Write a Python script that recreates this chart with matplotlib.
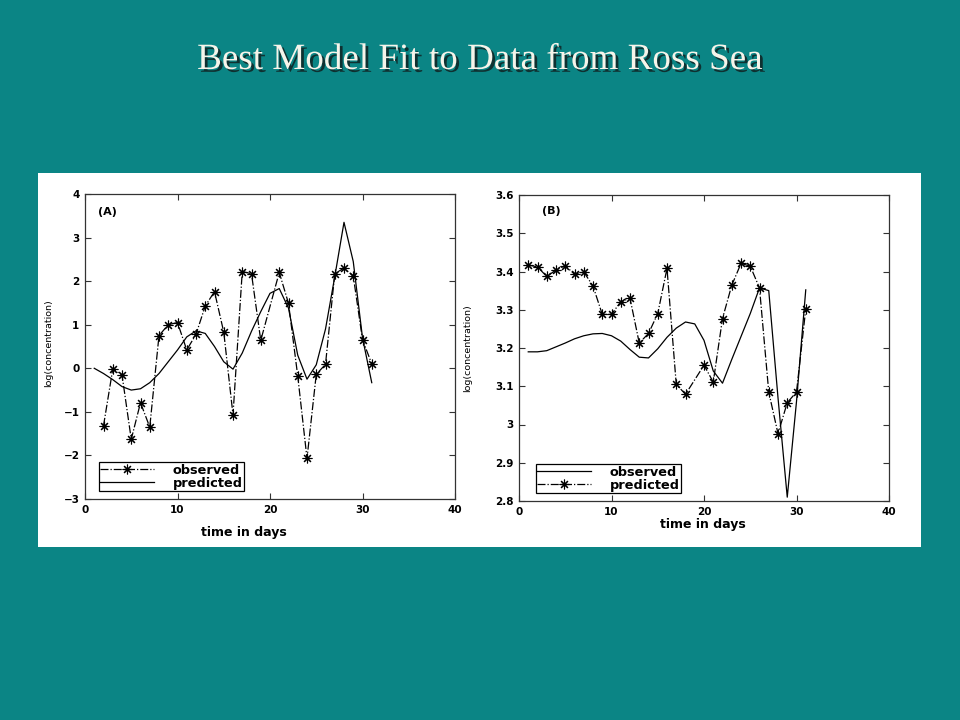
#Best model fit to data from Ross Sea - two panel slide

import matplotlib
matplotlib.use('Agg')
import matplotlib.pyplot as plt
import matplotlib.patheffects as pe
from matplotlib.patches import Rectangle
from matplotlib.ticker import FormatStrFormatter

#panel A, observed (stars, dash-dot) - day 20 has no sample
days_obs_a = [2, 3, 4, 5, 6, 7, 8, 9, 10, 11, 12, 13, 14, 15, 16, 17, 18, 19,
              21, 22, 23, 24, 25, 26, 27, 28, 29, 30, 31]
obs_a = [-1.32, -0.02, -0.15, -1.63, -0.79, -1.35, 0.75, 1.0, 1.05, 0.42, 0.78,
         1.43, 1.76, 0.83, -1.07, 2.22, 2.17, 0.64,
         2.2, 1.49, -0.18, -2.07, -0.14, 0.09, 2.17, 2.3, 2.12, 0.66, 0.1]

#panel A, predicted (solid)
days_pred_a = list(range(1, 32))
pred_a = [0.0, -0.12, -0.26, -0.42, -0.5, -0.47, -0.33, -0.12, 0.15, 0.42,
          0.72, 0.86, 0.8, 0.5, 0.15, -0.02, 0.35, 0.85, 1.3, 1.72,
          1.83, 1.38, 0.3, -0.25, 0.08, 0.9, 2.1, 3.35, 2.45, 0.7, -0.33]

#panel B, observed (solid)
days_obs_b = list(range(1, 32))
obs_b = [3.19, 3.19, 3.193, 3.203, 3.213, 3.224, 3.232, 3.237, 3.238, 3.232,
         3.218, 3.196, 3.176, 3.174, 3.198, 3.228, 3.252, 3.268, 3.263, 3.22,
         3.14, 3.108, 3.17, 3.23, 3.29, 3.357, 3.35, 3.07, 2.81, 3.06, 3.352]

#panel B, predicted (stars, dash-dot) - day 19 has no value
days_pred_b = [1, 2, 3, 4, 5, 6, 7, 8, 9, 10, 11, 12, 13, 14, 15, 16, 17, 18,
               20, 21, 22, 23, 24, 25, 26, 27, 28, 29, 30, 31]
pred_b = [3.417, 3.412, 3.387, 3.404, 3.415, 3.393, 3.399, 3.362, 3.288, 3.288,
          3.321, 3.33, 3.213, 3.238, 3.29, 3.408, 3.105, 3.079,
          3.155, 3.111, 3.277, 3.364, 3.421, 3.414, 3.357, 3.085, 2.976, 3.057,
          3.085, 3.302]

title_text = 'Best Model Fit to Data from Ross Sea'
bg_color = '#0b8585'
star = (8, 2, 0)

tick_font = {'family': 'DejaVu Sans', 'weight': 'bold', 'size': 7.5}
label_font = {'family': 'DejaVu Sans', 'weight': 'bold', 'size': 9}
ylabel_font = {'family': 'DejaVu Sans', 'size': 6.8}
legend_font = {'family': 'DejaVu Sans', 'weight': 'bold', 'size': 9.3}


def style_axes(ax, xlim, ylim, yticks, ypanel):
	ax.set_xlim(xlim)
	ax.set_ylim(ylim)
	ax.set_xticks([0, 10, 20, 30, 40])
	ax.set_yticks(yticks)
	ax.tick_params(direction='in', top=True, right=True, length=4, width=0.8,
	               color='#333333', pad=4)
	for lab in ax.get_xticklabels() + ax.get_yticklabels():
		lab.set_fontfamily(tick_font['family'])
		lab.set_fontweight(tick_font['weight'])
		lab.set_fontsize(tick_font['size'])
	for sp in ax.spines.values():
		sp.set_color('#333333')
		sp.set_linewidth(0.9)
	ax.set_xlabel('time in days', **label_font)
	ax.set_ylabel('log(concentration)', **ylabel_font)
	ax.text(ypanel[0], ypanel[1], ypanel[2], transform=ax.transAxes,
	        fontsize=8, fontweight='bold', family='DejaVu Sans', va='center')


fig = plt.figure(figsize=(9.6, 7.2), dpi=100)
fig.patch.set_facecolor(bg_color)

#white card behind the two panels
fig.patches.append(Rectangle((38 / 960, 1 - 547 / 720), 883 / 960, 374 / 720,
                             transform=fig.transFigure, facecolor='white',
                             edgecolor='none', zorder=-5))

title = fig.text(0.5, 0.917, title_text, ha='center', va='center',
                 family='Liberation Serif', fontsize=26.7, color='#f6f4ea')
title.set_path_effects([pe.withSimplePatchShadow(offset=(2, -2),
                                                 shadow_rgbFace='#102828',
                                                 alpha=0.9)])

#panel A
ax_a = fig.add_axes([85 / 960, 1 - 499 / 720, 370 / 960, 305 / 720])
ax_a.plot(days_obs_a, obs_a, color='black', linestyle='-.', linewidth=0.9,
          marker=star, markersize=7, markeredgewidth=0.8, label='observed')
ax_a.plot(days_pred_a, pred_a, color='black', linestyle='-', linewidth=0.9,
          label='predicted')
style_axes(ax_a, (0, 40), (-3, 4), list(range(-3, 5)), (0.035, 0.94, '(A)'))
ax_a.xaxis.set_label_coords(0.43, -0.089)
ax_a.yaxis.set_label_coords(-0.086, 0.51)
leg = ax_a.legend(loc='lower left', bbox_to_anchor=(0.02, 0.005), fancybox=False,
                  edgecolor='black', framealpha=1, handlelength=4.2,
                  borderpad=0.1, labelspacing=0.0, handletextpad=1.4,
                  prop=legend_font)
leg.get_frame().set_linewidth(0.9)

#panel B
ax_b = fig.add_axes([519 / 960, 1 - 501 / 720, 370 / 960, 306 / 720])
ax_b.plot(days_obs_b, obs_b, color='black', linestyle='-', linewidth=0.9,
          label='observed')
ax_b.plot(days_pred_b, pred_b, color='black', linestyle='-.', linewidth=0.9,
          marker=star, markersize=7, markeredgewidth=0.8, label='predicted')
style_axes(ax_b, (0, 40), (2.8, 3.6), [2.8 + 0.1 * i for i in range(9)],
           (0.062, 0.948, '(B)'))
ax_b.yaxis.set_major_formatter(FormatStrFormatter('%g'))
for lab in ax_b.get_yticklabels():
	lab.set_fontweight('bold')
	lab.set_fontsize(7.5)
ax_b.xaxis.set_label_coords(0.497, -0.056)
ax_b.yaxis.set_label_coords(-0.127, 0.5)
leg = ax_b.legend(loc='lower left', bbox_to_anchor=(0.028, 0.005), fancybox=False,
                  edgecolor='black', framealpha=1, handlelength=4.2,
                  borderpad=0.1, labelspacing=0.0, handletextpad=1.4,
                  prop=legend_font)
leg.get_frame().set_linewidth(0.9)

plt.savefig('out.png', dpi=100, facecolor=fig.get_facecolor())
